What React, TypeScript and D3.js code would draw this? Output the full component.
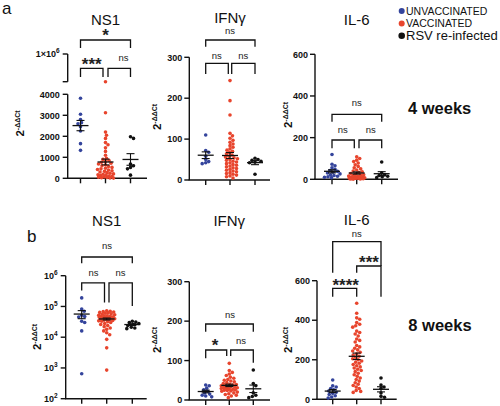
import React from 'react';
import * as d3 from 'd3';

// ---------- data ----------
const groupNames = ['UNVACCINATED', 'VACCINATED', 'RSV re-infected'];
const groupColors = ['#34449c', '#e8452d', '#111111'];

// 4 weeks
const ns1W4Unvacc = [3810, 3050, 2800, 2650, 2600, 2450, 2250, 1650, 1330];
const ns1W4Vacc = [4500, 3120, 2200, 2050, 1900, 1700, 1600, 1450, 1280, 1100, 950, 900, 850, 800, 760, 720, 680, 640, 600, 560, 520, 480, 450, 420, 390, 360, 330, 300, 270, 240, 210, 190, 170, 150, 130, 110, 90, 70, 50, 40, 30, 20, 10];
const ns1W4Reinf = [1980, 1900, 680, 600, 520, 450, 150];

const ifnW4Unvacc = [110, 72, 68, 58, 50, 45, 42, 40];
const ifnW4Vacc = [243, 194, 159, 114, 108, 102, 97, 92, 88, 84, 80, 76, 73, 70, 67, 64, 61, 58, 56, 54, 52, 50, 48, 46, 44, 42, 40, 38, 36, 34, 32, 30, 28, 26, 24, 22, 20, 18, 16, 14, 12, 10, 8, 5];
const ifnW4Reinf = [53, 50, 48, 46, 44, 42, 14];

const il6W4Unvacc = [119, 72, 65, 55, 48, 42, 38, 34, 30, 26, 22, 18, 15, 12, 10, 8];
const il6W4Vacc = [108, 100, 92, 85, 78, 70, 62, 55, 50, 45, 40, 36, 32, 28, 25, 22, 20, 18, 16, 14, 12, 11, 10, 9, 8, 7, 6, 5, 5, 4, 4, 3, 3, 2, 2, 1];
const il6W4Reinf = [83, 30, 22, 18, 15, 12, 8];

// 8 weeks
const ns1W8Unvacc = [190000, 82000, 70000, 52000, 47000, 45000, 33000, 30000, 16000, 650];
const ns1W8Vacc = [72000, 70000, 68000, 66000, 64000, 62000, 60000, 58000, 56000, 54000, 52000, 50000, 49000, 48000, 47000, 46000, 45000, 44000, 43000, 42000, 41000, 40000, 39000, 38000, 37000, 36000, 35000, 34000, 33000, 32000, 30000, 28000, 26000, 24000, 22000, 20000, 18000, 16000, 14000, 12000, 8500, 4500, 850];
const ns1W8Reinf = [33000, 31000, 30000, 28000, 26000, 24000, 21000, 20000, 19000];

const ifnW8Unvacc = [38, 36, 30, 26, 22, 18, 15, 12, 10, 8];
const ifnW8Vacc = [93, 75, 70, 66, 62, 58, 55, 52, 50, 48, 46, 44, 42, 40, 39, 38, 37, 36, 35, 34, 33, 32, 31, 30, 29, 28, 27, 26, 25, 24, 23, 22, 20, 18, 16, 14, 12, 10, 6];
const ifnW8Reinf = [76, 42, 36, 18, 12, 9, 6];

const il6W8Unvacc = [98, 68, 62, 55, 48, 42, 36, 30, 24, 18, 12, 6];
const il6W8Vacc = [486, 435, 412, 405, 388, 380, 372, 365, 345, 338, 330, 320, 305, 298, 290, 272, 265, 258, 250, 244, 238, 230, 224, 218, 212, 205, 200, 194, 188, 182, 176, 170, 164, 158, 152, 146, 140, 132, 124, 116, 108, 100, 92, 84, 76, 70, 62, 55, 45, 40, 35];
const il6W8Reinf = [108, 72, 62, 55, 32, 15, 10];

// tick values
const ticksNs1Lower = [0, 1000, 2000, 3000, 4000];
const ticks300 = [0, 100, 200, 300];
const ticks600 = [0, 200, 400, 600];
const ticksLog = [1e2, 1e3, 1e4, 1e5, 1e6];

const FONT = 'Liberation Sans, Arial, Helvetica, sans-serif';
const R = 1.8;
const HALF_W = 8;

type Bracket = { x1: number; x2: number; y: number; l1: number; l2: number; label: string; lx: number; ly: number };
type Tick = { y: number; label: React.ReactNode };
type Panel = {
  title: string; titleY: number;
  axisX: number; xEnd: number; cats: number[]; baseY: number;
  segments: [number, number][];
  y: (v: number) => number;
  ticks: Tick[];
  data: number[][];
  brackets: Bracket[];
  yLabel: [number, number];
  labelGap: number;
};

// bounded beeswarm: points placed near centre, never wider than HALF_W
function swarm(ys: number[], r: number): number[] {
  const order = ys.map((_, i) => i).sort((a, b) => ys[a] - ys[b]);
  const placed: { x: number; y: number }[] = [];
  const xs = new Array(ys.length).fill(0);
  const minD = 2 * r * 0.9;
  const cands: number[] = [0];
  for (let k = 1; k * 0.5 <= HALF_W; k++) { cands.push(k * 0.5, -k * 0.5); }
  for (const i of order) {
    const y = ys[i];
    let best = 0, bestD = -1;
    for (const off of cands) {
      let md = Infinity;
      for (const p of placed) {
        const d = Math.hypot(p.x - off, p.y - y);
        if (d < md) md = d;
      }
      if (md >= minD) { best = off; break; }
      if (md > bestD + 0.05) { bestD = md; best = off; }
    }
    placed.push({ x: best, y });
    xs[i] = best;
  }
  return xs;
}

const sup = (base: string, exp: string) => (
  <>
    {base}
    <tspan dy={-4} fontSize={6.5}>{exp}</tspan>
  </>
);

const fmt = d3.format('d');

// ----- scales -----
const ns1aLower = d3.scaleLinear().domain([0, 4000]).range([178.3, 94.3]);
const ns1aUpper = d3.scaleLinear().domain([4000, 1e6]).range([81.7, 54]);
const ns1aY = (v: number) => (v <= 4000 ? ns1aLower(v) : ns1aUpper(v));
const ifnaY = d3.scaleLinear().domain([0, 300]).range([180, 57.3]);
const il6aY = d3.scaleLinear().domain([0, 600]).range([179.3, 54.3]);
const ns1bY = d3.scaleLog().domain([1e2, 1e6]).range([398.7, 275.7]);
const ifnbY = d3.scaleLinear().domain([0, 300]).range([400, 281.7]);
const il6bY = d3.scaleLinear().domain([0, 600]).range([399.3, 280.7]);

const panels: Panel[] = [
  {
    title: 'NS1', titleY: 24.5, axisX: 67.7, xEnd: 147, cats: [80.5, 105.5, 130.5], baseY: 178.3,
    segments: [[54, 81.7], [94.3, 178.3]], y: ns1aY,
    ticks: [
      ...ticksNs1Lower.map(v => ({ y: ns1aLower(v), label: fmt(v) })),
      { y: ns1aUpper(1e6), label: sup('1×10', '6') },
      { y: ns1aUpper(4000), label: '' },
    ],
    data: [ns1W4Unvacc, ns1W4Vacc, ns1W4Reinf],
    brackets: [
      { x1: 80.5, x2: 130.5, y: 40, l1: 48, l2: 48, label: '*', lx: 105.5, ly: 31.7 },
      { x1: 80.5, x2: 103, y: 68.3, l1: 77, l2: 77, label: '***', lx: 91.7, ly: 60 },
      { x1: 108, x2: 130.5, y: 68.3, l1: 77, l2: 77, label: 'ns', lx: 123.5, ly: 58.3 },
    ],
    yLabel: [20, 123.5], labelGap: 8,
  },
  {
    title: 'IFNγ', titleY: 23.3, axisX: 189.3, xEnd: 270, cats: [205.7, 230, 255], baseY: 180,
    segments: [[57.3, 180]], y: ifnaY,
    ticks: ticks300.map(v => ({ y: ifnaY(v), label: fmt(v) })),
    data: [ifnW4Unvacc, ifnW4Vacc, ifnW4Reinf],
    brackets: [
      { x1: 205.7, x2: 255, y: 40, l1: 46.7, l2: 46.7, label: 'ns', lx: 230, ly: 31.8 },
      { x1: 205.7, x2: 228.3, y: 63.3, l1: 74, l2: 74, label: 'ns', lx: 216.7, ly: 56.7 },
      { x1: 231.7, x2: 255, y: 63.3, l1: 74, l2: 74, label: 'ns', lx: 243.3, ly: 56.7 },
    ],
    yLabel: [157, 117], labelGap: 7,
  },
  {
    title: 'IL-6', titleY: 24.5, axisX: 315, xEnd: 398, cats: [332, 356.7, 381.7], baseY: 179.3,
    segments: [[54.3, 179.3]], y: il6aY,
    ticks: ticks600.map(v => ({ y: il6aY(v), label: fmt(v) })),
    data: [il6W4Unvacc, il6W4Vacc, il6W4Reinf],
    brackets: [
      { x1: 332, x2: 381.7, y: 114.3, l1: 121.7, l2: 121.7, label: 'ns', lx: 356.7, ly: 103.3 },
      { x1: 332, x2: 354.3, y: 140, l1: 148.3, l2: 148.3, label: 'ns', lx: 342.7, ly: 130.7 },
      { x1: 359, x2: 381.7, y: 140, l1: 148.3, l2: 148.3, label: 'ns', lx: 370.7, ly: 130.7 },
    ],
    yLabel: [288.3, 115], labelGap: 7,
  },
  {
    title: 'NS1', titleY: 226.2, axisX: 65.7, xEnd: 146.7, cats: [81.7, 106.7, 132.3], baseY: 398.7,
    segments: [[275.7, 398.7]], y: ns1bY,
    ticks: ticksLog.map(v => ({ y: ns1bY(v), label: sup('10', String(Math.round(Math.log10(v)))) })),
    data: [ns1W8Unvacc, ns1W8Vacc, ns1W8Reinf],
    brackets: [
      { x1: 81.7, x2: 132.3, y: 257, l1: 263.3, l2: 263.3, label: 'ns', lx: 107, ly: 246.5 },
      { x1: 81.7, x2: 104.5, y: 282.8, l1: 290.5, l2: 302.5, label: 'ns', lx: 93.5, ly: 273 },
      { x1: 109, x2: 132.3, y: 282.8, l1: 302.5, l2: 306, label: 'ns', lx: 120.5, ly: 273 },
    ],
    yLabel: [37, 337], labelGap: 8,
  },
  {
    title: 'IFNγ', titleY: 226.2, axisX: 189.3, xEnd: 270, cats: [205.7, 229.3, 253.3], baseY: 400,
    segments: [[281.7, 400]], y: ifnbY,
    ticks: ticks300.map(v => ({ y: ifnbY(v), label: fmt(v) })),
    data: [ifnW8Unvacc, ifnW8Vacc, ifnW8Reinf],
    brackets: [
      { x1: 205.7, x2: 253.3, y: 324, l1: 331.7, l2: 331.7, label: 'ns', lx: 230, ly: 315 },
      { x1: 205.7, x2: 226.7, y: 350, l1: 358.3, l2: 356, label: '*', lx: 215, ly: 341.7 },
      { x1: 230.7, x2: 253.3, y: 350, l1: 356, l2: 362.7, label: 'ns', lx: 241, ly: 341.7 },
    ],
    yLabel: [157, 340], labelGap: 7,
  },
  {
    title: 'IL-6', titleY: 225, axisX: 317, xEnd: 396.7, cats: [332.7, 356.7, 381], baseY: 399.3,
    segments: [[280.7, 399.3]], y: il6bY,
    ticks: ticks600.map(v => ({ y: il6bY(v), label: fmt(v) })),
    data: [il6W8Unvacc, il6W8Vacc, il6W8Reinf],
    brackets: [
      { x1: 332.7, x2: 381, y: 241.7, l1: 272.7, l2: 266, label: 'ns', lx: 356.7, ly: 234 },
      { x1: 356.7, x2: 381, y: 266, l1: 272.7, l2: 296.7, label: '***', lx: 369, ly: 258 },
      { x1: 332.7, x2: 356.7, y: 288.3, l1: 296.7, l2: 296.7, label: '****', lx: 345.7, ly: 281 },
    ],
    yLabel: [288.3, 340], labelGap: 7,
  },
];

function PanelView({ p }: { p: Panel }) {
  const midX = p.cats[1];
  return (
    <g>
      <text x={midX} y={p.titleY} textAnchor="middle" fontSize={15} fontFamily={FONT} fill="#111">{p.title}</text>
      {/* y label */}
      <text transform={`translate(${p.yLabel[0]},${p.yLabel[1]}) rotate(-90)`} textAnchor="middle"
        fontFamily={FONT} fontWeight="bold" fill="#111" fontSize={11.5} dy={4}>
        2<tspan fontSize={7} dy={-4.5}>-ΔΔCt</tspan>
      </text>
      {/* axis segments */}
      {p.segments.map((s, i) => (
        <line key={i} x1={p.axisX} x2={p.axisX} y1={s[0]} y2={s[1]} stroke="#111" strokeWidth={1.4} />
      ))}
      <line x1={p.axisX - 0.7} x2={p.xEnd} y1={p.baseY} y2={p.baseY} stroke="#111" strokeWidth={1.4} />
      {p.ticks.map((t, i) => (
        <g key={i}>
          <line x1={p.axisX - 5} x2={p.axisX} y1={t.y} y2={t.y} stroke="#111" strokeWidth={1.4} />
          <text x={p.axisX - p.labelGap} y={t.y + 3.2} textAnchor="end" fontSize={9} fontWeight="bold"
            fontFamily={FONT} fill="#111">{t.label}</text>
        </g>
      ))}
      {p.cats.map((c, i) => (
        <line key={i} x1={c} x2={c} y1={p.baseY} y2={p.baseY + 5} stroke="#111" strokeWidth={1.4} />
      ))}
      {/* data */}
      {p.data.map((vals, gi) => {
        const ys = vals.map(v => p.y(v));
        const xs = swarm(ys, R);
        const mean = d3.mean(vals) as number;
        const sd = d3.deviation(vals) as number;
        const sem = sd / Math.sqrt(vals.length);
        const cx = p.cats[gi];
        const ym = p.y(mean), yt = p.y(mean + sem), yb = p.y(mean - sem);
        return (
          <g key={gi}>
            {vals.map((v, i) => (
              <circle key={i} cx={cx + xs[i]} cy={ys[i]} r={R} fill={groupColors[gi]} />
            ))}
            <line x1={cx - 8} x2={cx + 8} y1={ym} y2={ym} stroke="#111" strokeWidth={1.3} />
            <line x1={cx} x2={cx} y1={yt} y2={yb} stroke="#111" strokeWidth={1.1} />
            <line x1={cx - 4} x2={cx + 4} y1={yt} y2={yt} stroke="#111" strokeWidth={1.1} />
            <line x1={cx - 4} x2={cx + 4} y1={yb} y2={yb} stroke="#111" strokeWidth={1.1} />
          </g>
        );
      })}
      {/* brackets */}
      {p.brackets.map((b, i) => {
        const star = b.label.includes('*');
        const fs = star ? 17 : 9.5;
        const by = star ? b.ly + 0.57 * fs : b.ly + 2.6;
        return (
          <g key={i}>
            <path d={`M${b.x1},${b.l1}V${b.y}H${b.x2}V${b.l2}`} fill="none" stroke="#111" strokeWidth={1.3} />
            <text x={b.lx} y={by} textAnchor="middle" fontSize={fs} fontWeight={star ? 'bold' : 'normal'}
              fontFamily={FONT} fill="#222">{b.label}</text>
          </g>
        );
      })}
    </g>
  );
}

export default function App() {
  return (
    <svg width={500} height={406} viewBox="0 0 500 406"
      style={{ position: 'absolute', left: 0, top: 0, background: '#fff' }}>
      <rect width={500} height={406} fill="#fff" />
      <text x={2} y={14} fontSize={17} fontFamily={FONT} fill="#111">a</text>
      <text x={27} y={241.7} fontSize={17} fontFamily={FONT} fill="#111">b</text>
      {panels.map((p, i) => <PanelView key={i} p={p} />)}
      {/* legend */}
      {groupNames.map((g, i) => (
        <g key={g}>
          <circle cx={401.7} cy={11 + i * 12.4} r={i === 2 ? 3.3 : 3} fill={groupColors[i]} />
          <text x={406} y={11 + i * 12.4 + (i === 2 ? 4.6 : 3.8)} fontSize={i === 2 ? 13 : 10.5}
            fontFamily={FONT} fill="#111">{g}</text>
        </g>
      ))}
      <text x={408} y={113.5} fontSize={16.5} fontWeight="bold" fontFamily={FONT} fill="#111">4 weeks</text>
      <text x={408.3} y={330.7} fontSize={16.5} fontWeight="bold" fontFamily={FONT} fill="#111">8 weeks</text>
    </svg>
  );
}
